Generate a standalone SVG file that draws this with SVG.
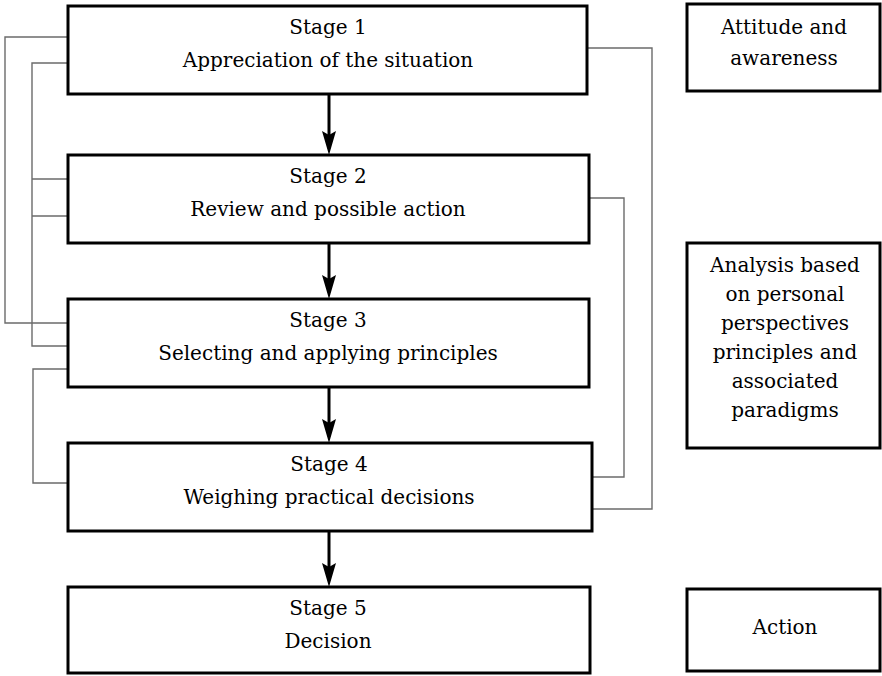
<svg xmlns="http://www.w3.org/2000/svg" width="882" height="676" viewBox="0 0 882 676">
  <style>
    .box { fill: #ffffff; stroke: #000000; stroke-width: 3; }
    .link { fill: none; stroke: #6b6b6b; stroke-width: 1.4; }
    .flow { fill: none; stroke: #000000; stroke-width: 3; }
    .head { fill: #000000; stroke: none; }
  </style>
  <defs>
    <!-- downward arrowhead, tip at origin -->
    <polygon id="arrowhead" points="0,0 -7,-24 0,-20 7,-24"/>
  </defs>

  <rect width="882" height="676" fill="#ffffff"/>

  <!-- feedback connectors between stages -->
  <g id="connectors">
    <path class="link" d="M68,37 H5 V323 H68"/>
    <path class="link" d="M68,63 H32 V346 H68"/>
    <path class="link" d="M32,179 H68 M32,216 H68"/>
    <path class="link" d="M68,369 H33 V483 H68"/>
    <path class="link" d="M589,198 H624 V477 H592"/>
    <path class="link" d="M587,48 H652 V509 H592"/>

    <line class="flow" x1="329" y1="94" x2="329" y2="140"/>
    <use href="#arrowhead" class="head" x="329" y="155"/>
    <line class="flow" x1="329" y1="243" x2="329" y2="284"/>
    <use href="#arrowhead" class="head" x="329" y="299"/>
    <line class="flow" x1="329" y1="387" x2="329" y2="428"/>
    <use href="#arrowhead" class="head" x="329" y="443"/>
    <line class="flow" x1="329" y1="531" x2="329" y2="572"/>
    <use href="#arrowhead" class="head" x="329" y="587"/>
  </g>

  <g font-family="'DejaVu Serif', serif" font-size="20" fill="#000000" text-anchor="middle">
    <g id="stage1">
      <rect class="box" x="68" y="6" width="519" height="88"/>
      <text x="328" y="34">Stage 1</text>
      <text x="328" y="67">Appreciation of the situation</text>
    </g>

    <g id="stage2">
      <rect class="box" x="68" y="155" width="521" height="88"/>
      <text x="328" y="183">Stage 2</text>
      <text x="328" y="216">Review and possible action</text>
    </g>

    <g id="stage3">
      <rect class="box" x="68" y="299" width="521" height="88"/>
      <text x="328" y="327">Stage 3</text>
      <text x="328" y="360">Selecting and applying principles</text>
    </g>

    <g id="stage4">
      <rect class="box" x="68" y="443" width="524" height="88"/>
      <text x="329" y="471">Stage 4</text>
      <text x="329" y="504">Weighing practical decisions</text>
    </g>

    <g id="stage5">
      <rect class="box" x="68" y="587" width="522" height="86"/>
      <text x="328" y="615">Stage 5</text>
      <text x="328" y="648">Decision</text>
    </g>

    <g id="attitude">
      <rect class="box" x="687" y="4" width="193" height="87"/>
      <text x="784" y="34">Attitude and</text>
      <text x="784" y="65">awareness</text>
    </g>

    <g id="analysis">
      <rect class="box" x="687" y="243" width="193" height="205"/>
      <text x="785" y="272">Analysis based</text>
      <text x="785" y="301">on personal</text>
      <text x="785" y="330">perspectives</text>
      <text x="785" y="359">principles and</text>
      <text x="785" y="388">associated</text>
      <text x="785" y="417">paradigms</text>
    </g>

    <g id="action">
      <rect class="box" x="687" y="589" width="193" height="82"/>
      <text x="785" y="634">Action</text>
    </g>
  </g>
</svg>
